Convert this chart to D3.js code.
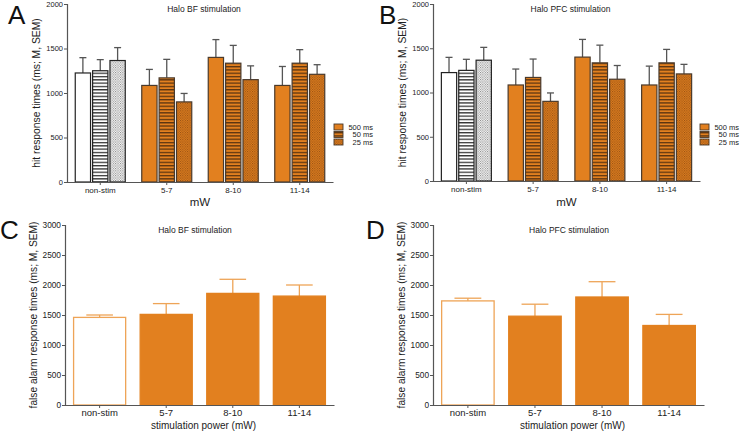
<!DOCTYPE html>
<html><head><meta charset="utf-8">
<script src="https://cdn.jsdelivr.net/npm/d3@7"></script>
<style>body{margin:0;background:#fff}svg{display:block;font-family:"Liberation Sans",Arial,sans-serif}</style>
</head><body><svg id="c" width="740" height="431"></svg>
<script>
const categories = ["non-stim","5-7","8-10","11-14"];
const seriesLabels = ["500 ms","50 ms","25 ms"];
// Panel A (Halo BF) hit response times
const hitBF_mean500 = [1225,1085,1400,1085];
const hitBF_mean50  = [1250,1170,1335,1335];
const hitBF_mean25  = [1365,900,1150,1210];
const hitBF_sem500  = [172,180,200,213];
const hitBF_sem50   = [125,208,200,152];
const hitBF_sem25   = [145,95,155,108];
// Panel B (Halo PFC) hit response times
const hitPFC_mean500 = [1225,1085,1400,1085];
const hitPFC_mean50  = [1250,1170,1335,1335];
const hitPFC_mean25  = [1365,900,1150,1210];
const hitPFC_sem500  = [172,180,200,213];
const hitPFC_sem50   = [125,208,200,152];
const hitPFC_sem25   = [145,95,155,108];
// Panels C/D false alarm response times
const faBF_mean  = [1460,1510,1860,1815];
const faBF_sem   = [40,180,235,185];
const faPFC_mean = [1735,1480,1800,1325];
const faPFC_sem  = [45,200,255,185];
const hitTicks = [0,500,1000,1500,2000];
const faTicks  = [0,500,1000,1500,2000,2500,3000];

const ORANGE = "#e2801f";
const svg = d3.select("#c");
const defs = svg.append("defs");
function stripes(id, bg, line){
  const p = defs.append("pattern").attr("id",id).attr("patternUnits","userSpaceOnUse").attr("width",6).attr("height",3.3);
  p.append("rect").attr("width",6).attr("height",3.3).attr("fill",bg);
  p.append("rect").attr("y",0).attr("width",6).attr("height",1.3).attr("fill",line);
}
function dots(id, bg, dot){
  const p = defs.append("pattern").attr("id",id).attr("patternUnits","userSpaceOnUse").attr("width",2.4).attr("height",2.4);
  p.append("rect").attr("width",2.4).attr("height",2.4).attr("fill",bg);
  p.append("rect").attr("x",0).attr("y",0).attr("width",1).attr("height",1).attr("fill",dot);
  p.append("rect").attr("x",1.2).attr("y",1.2).attr("width",1).attr("height",1).attr("fill",dot);
}
stripes("strW","#fff","#333");
stripes("strO",ORANGE,"#5a3410");
dots("dotW","#fff","#777");
dots("dotO",ORANGE,"#8a4a12");
const fillsWhite = ["#fff","url(#strW)","url(#dotW)"];
const fillsOrange = [ORANGE,"url(#strO)","url(#dotO)"];

function yAxis(g, y, x0, ticks, color, fs){
  const ax = g.append("g").attr("transform",`translate(${x0},0)`)
    .call(d3.axisLeft(y).tickValues(ticks).tickSize(3).tickPadding(1).tickFormat(d3.format("d")));
  ax.select(".domain").attr("stroke",color).attr("stroke-width",1.2);
  ax.selectAll(".tick line").attr("stroke",color);
  ax.selectAll("text").attr("font-size",fs).attr("fill","#222").attr("font-family","Liberation Sans, Arial");
}
function xAxis(g, x, y0, color, fs, pad){
  const ax = g.append("g").attr("transform",`translate(0,${y0})`)
    .call(d3.axisBottom(x).tickSize(3).tickPadding(pad).tickSizeOuter(0));
  ax.select(".domain").attr("stroke",color).attr("stroke-width",1.2);
  ax.selectAll(".tick line").attr("stroke",color);
  ax.selectAll("text").attr("font-size",fs).attr("fill","#222").attr("font-family","Liberation Sans, Arial");
}

function hitPanel(o){
  const g = svg.append("g");
  const x = d3.scaleBand().domain(categories).range([o.x0,o.x1]).padding(0);
  const xs = d3.scaleBand().domain(seriesLabels).range([0,50]).paddingInner(0.12);
  const y = d3.scaleLinear().domain([0,2000]).range([o.yb,o.yt]);
  const means = [o.m500,o.m50,o.m25], sems=[o.s500,o.s50,o.s25];
  const off = (x.bandwidth()-50)/2;
  seriesLabels.forEach((s,si)=>{
    categories.forEach((c,ci)=>{
      const bx = x(c)+off+xs(s), bw = xs.bandwidth();
      const m = means[si][ci], e = sems[si][ci];
      const cx = bx+bw/2;
      g.append("line").attr("x1",cx).attr("x2",cx).attr("y1",y(m)).attr("y2",y(m+e)).attr("stroke","#555").attr("stroke-width",1.3);
      g.append("line").attr("x1",cx-3.5).attr("x2",cx+3.5).attr("y1",y(m+e)).attr("y2",y(m+e)).attr("stroke","#555").attr("stroke-width",1.3);
      g.append("rect").attr("x",bx).attr("y",y(m)).attr("width",bw).attr("height",y(0)-y(m))
        .attr("fill", ci===0?fillsWhite[si]:fillsOrange[si])
        .attr("stroke", ci===0?"#222":"#4a3a2c").attr("stroke-width",1.2);
    });
  });
  yAxis(g,y,o.x0,hitTicks,"#555",7.5);
  xAxis(g,x,o.yb,"#555",8,2);
  g.append("text").attr("x",(o.x0+o.x1)/2+4).attr("y",12).attr("text-anchor","middle").attr("font-size",8.5).attr("fill","#222").text(o.title);
  g.append("text").attr("transform",`translate(${o.x0-27},${(o.yt+o.yb)/2}) rotate(-90)`).attr("text-anchor","middle").attr("font-size",10.3).attr("fill","#222").text("hit response times (ms; M, SEM)");
  g.append("text").attr("x",(o.x0+o.x1)/2).attr("y",206).attr("text-anchor","middle").attr("font-size",11.5).attr("fill","#222").text("mW");
  g.append("text").attr("x",o.lx).attr("y",24).attr("font-size",26).attr("fill","#111").text(o.letter);
  seriesLabels.forEach((s,i)=>{
    const ly = 124+i*7.5;
    g.append("rect").attr("x",o.legx).attr("y",ly).attr("width",9).attr("height",6)
      .attr("fill",fillsOrange[i]).attr("stroke","#4a3a2c").attr("stroke-width",0.9);
    g.append("text").attr("x",o.legt).attr("y",ly+5.5).attr("text-anchor","end").attr("font-size",7.5).attr("fill","#222").text(s);
  });
}
hitPanel({x0:67,x1:333,yt:4,yb:182,m500:hitBF_mean500,m50:hitBF_mean50,m25:hitBF_mean25,s500:hitBF_sem500,s50:hitBF_sem50,s25:hitBF_sem25,title:"Halo BF stimulation",letter:"A",lx:8,legx:334,legt:373});
hitPanel({x0:433,x1:700,yt:4,yb:181,m500:hitPFC_mean500,m50:hitPFC_mean50,m25:hitPFC_mean25,s500:hitPFC_sem500,s50:hitPFC_sem50,s25:hitPFC_sem25,title:"Halo PFC stimulation",letter:"B",lx:379,legx:700,legt:739});

function faPanel(o){
  const g = svg.append("g");
  const x = d3.scaleBand().domain(categories).range([o.x0,o.x1]).paddingInner(0.2).paddingOuter(0.12);
  const y = d3.scaleLinear().domain([0,3000]).range([405,225]);
  const LO = "#eea457";
  categories.forEach((c,ci)=>{
    const m=o.mean[ci], e=o.sem[ci];
    const bx=x(c), bw=x.bandwidth(), cx=bx+bw/2;
    g.append("line").attr("x1",cx).attr("x2",cx).attr("y1",y(m)).attr("y2",y(m+e)).attr("stroke",LO).attr("stroke-width",1.3);
    g.append("line").attr("x1",cx-bw/4).attr("x2",cx+bw/4).attr("y1",y(m+e)).attr("y2",y(m+e)).attr("stroke",LO).attr("stroke-width",1.3);
    g.append("rect").attr("x",bx+0.6).attr("y",y(m)).attr("width",bw-1.2).attr("height",y(0)-y(m))
      .attr("fill",ci===0?"#fff":ORANGE).attr("stroke",ci===0?LO:ORANGE).attr("stroke-width",1.3);
  });
  yAxis(g,y,o.x0,faTicks,"#555",8.3);
  xAxis(g,x,405,"#555",9.5,1);
  g.append("text").attr("x",o.tx).attr("y",233).attr("text-anchor","middle").attr("font-size",8.5).attr("fill","#222").text(o.title);
  g.append("text").attr("transform",`translate(${o.x0-28},${315}) rotate(-90)`).attr("text-anchor","middle").attr("font-size",10.2).attr("fill","#222").text("false alarm response times (ms; M, SEM)");
  g.append("text").attr("x",(o.x0+o.x1)/2+4).attr("y",429).attr("text-anchor","middle").attr("font-size",10).attr("fill","#222").text("stimulation power (mW)");
  g.append("text").attr("x",o.lx).attr("y",239).attr("font-size",26).attr("fill","#111").text(o.letter);
}
faPanel({x0:65,x1:334,mean:faBF_mean,sem:faBF_sem,title:"Halo BF stimulation",tx:195,letter:"C",lx:0});
faPanel({x0:433,x1:704,mean:faPFC_mean,sem:faPFC_sem,title:"Halo PFC stimulation",tx:569,letter:"D",lx:366});
</script></body></html>
